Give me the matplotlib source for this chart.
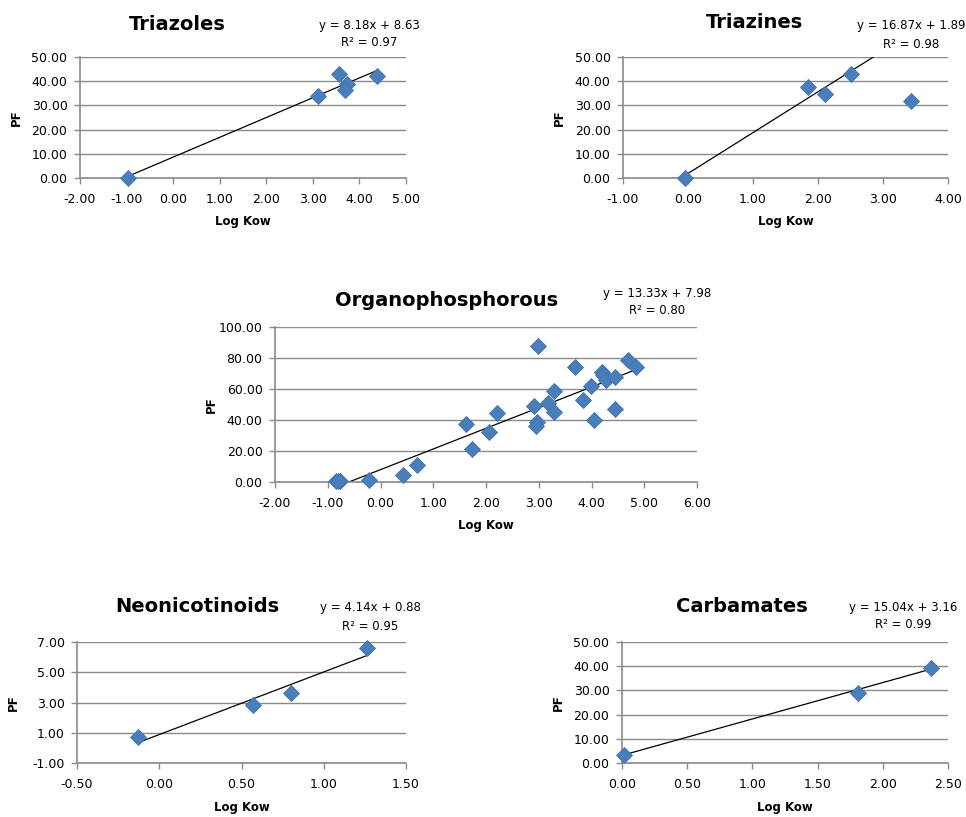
import matplotlib
matplotlib.use("Agg")
import matplotlib.pyplot as plt
import numpy as np
from matplotlib.ticker import FormatStrFormatter

# ── data ──────────────────────────────────────────────────────────────────
triazoles_x = [-0.98, 3.10, 3.57, 3.73, 3.70, 4.37]
triazoles_y = [0.2, 33.9, 42.8, 38.8, 36.2, 42.3]

triazines_x = [-0.05, 1.85, 2.10, 2.50, 3.43]
triazines_y = [0.0, 37.5, 34.8, 42.8, 31.8]

organo_x = [-0.85, -0.76, -0.80, -0.22, 0.43, 0.70, 1.62, 1.74, 2.06, 2.20,
            2.91, 2.96, 2.94, 2.99, 3.18, 3.29, 3.29, 3.68, 3.83, 3.99,
            4.05, 4.19, 4.22, 4.28, 4.44, 4.44, 4.69, 4.84]
organo_y = [0.4, 0.4, 0.8, 1.5, 4.7, 10.8, 37.6, 21.3, 32.0, 44.5,
            48.8, 38.5, 35.9, 88.0, 51.0, 59.0, 45.2, 74.0, 53.1, 61.7,
            40.2, 71.0, 69.0, 66.0, 67.5, 47.1, 78.9, 74.0]

neonic_x = [-0.128, 0.572, 0.80, 1.262]
neonic_y = [0.72, 2.86, 3.61, 6.60]

carb_x = [0.013, 1.81, 2.37]
carb_y = [3.4, 28.9, 39.3]

# trendline coefficients as printed on the chart
FITS = {
    "Triazoles":         (8.18, 8.63, 0.97),
    "Triazines":         (16.87, 1.89, 0.98),
    "Organophosphorous": (13.33, 7.98, 0.80),
    "Neonicotinoids":    (4.14, 0.88, 0.95),
    "Carbamates":        (15.04, 3.16, 0.99),
}

# ── layout (pixels of a 966x817 canvas) ──────────────────────────────────
W, H = 966, 817
MARKER_COL = "#4A7EBB"
GRID_COL = "#8A8A8A"

# name: (x, y, axes box [l, t, r, b], xlim, xticks, ylim, yticks,
#        title centre, equation centre)
PANELS = [
    ("Triazoles", triazoles_x, triazoles_y, (80, 57, 406, 178),
     (-2, 5), np.arange(-2, 5.1, 1), (0, 50), np.arange(0, 50.1, 10),
     (177, 24), (369, 25)),
    ("Triazines", triazines_x, triazines_y, (623, 57, 948, 178),
     (-1, 4), np.arange(-1, 4.1, 1), (0, 50), np.arange(0, 50.1, 10),
     (755, 22), (911, 26)),
    ("Organophosphorous", organo_x, organo_y, (275, 327, 697, 482),
     (-2, 6), np.arange(-2, 6.1, 1), (0, 100), np.arange(0, 100.1, 20),
     (447, 300), (657, 293)),
    ("Neonicotinoids", neonic_x, neonic_y, (77, 642, 406, 763),
     (-0.5, 1.5), np.arange(-0.5, 1.51, 0.5), (-1, 7), np.arange(-1, 7.1, 2),
     (197, 607), (370, 608)),
    ("Carbamates", carb_x, carb_y, (622, 642, 948, 763),
     (0, 2.5), np.arange(0, 2.51, 0.5), (0, 50), np.arange(0, 50.1, 10),
     (742, 607), (903, 607)),
]


def fx(px):
    return px / W


def fy(py):
    return 1 - py / H


def draw_panel(fig, name, xs, ys, box, xlim, xticks, ylim, yticks,
               title_pos, eq_pos):
    l, t, r, b = box
    ax = fig.add_axes([fx(l), fy(b), (r - l) / W, (b - t) / H])

    slope, icpt, r2 = FITS[name]
    xs = np.asarray(xs)
    xline = np.array([xs.min(), xs.max()])
    ax.plot(xline, slope * xline + icpt, color="black", lw=0.9, zorder=2)
    ax.plot(xs, ys, linestyle="none", marker="D", ms=8,
            color=MARKER_COL, mec="#3F72AF", mew=0.6, zorder=3,
            clip_on=False)

    ax.set_xlim(*xlim)
    ax.set_ylim(*ylim)
    ax.set_xticks(xticks)
    ax.set_yticks(yticks)
    ax.xaxis.set_major_formatter(FormatStrFormatter("%.2f"))
    ax.yaxis.set_major_formatter(FormatStrFormatter("%.2f"))
    ax.tick_params(labelsize=9, length=4, width=1, color=GRID_COL,
                   direction="out")
    ax.tick_params(axis="x", pad=7)
    ax.tick_params(axis="y", pad=5)

    ax.yaxis.grid(True, color=GRID_COL, lw=1)
    ax.set_axisbelow(True)
    for side in ("top", "right"):
        ax.spines[side].set_visible(False)
    for side in ("left", "bottom"):
        ax.spines[side].set_color(GRID_COL)
        ax.spines[side].set_linewidth(1.2)

    # labels, title and equation placed like the Excel chart
    fig.text(fx((l + r) / 2), fy(b + 44), "Log Kow", ha="center",
             va="center", fontsize=8.5, fontweight="bold")
    fig.text(fx(l - 64), fy((t + b) / 2), "PF", ha="center", va="center",
             rotation=90, fontsize=8.5, fontweight="bold")
    fig.text(fx(title_pos[0]), fy(title_pos[1]), name, ha="center",
             va="center", fontsize=14, fontweight="bold")
    fig.text(fx(eq_pos[0]), fy(eq_pos[1]),
             f"y = {slope:.2f}x + {icpt:.2f}", ha="center", va="center",
             fontsize=8.5)
    fig.text(fx(eq_pos[0]), fy(eq_pos[1] + 18), f"R² = {r2:.2f}",
             ha="center", va="center", fontsize=8.5)
    return ax


def main():
    fig = plt.figure(figsize=(W / 100, H / 100), dpi=100)
    fig.patch.set_facecolor("white")
    for p in PANELS:
        draw_panel(fig, *p)
    fig.savefig("out.png", dpi=100)
    plt.close(fig)


if __name__ == "__main__":
    main()
